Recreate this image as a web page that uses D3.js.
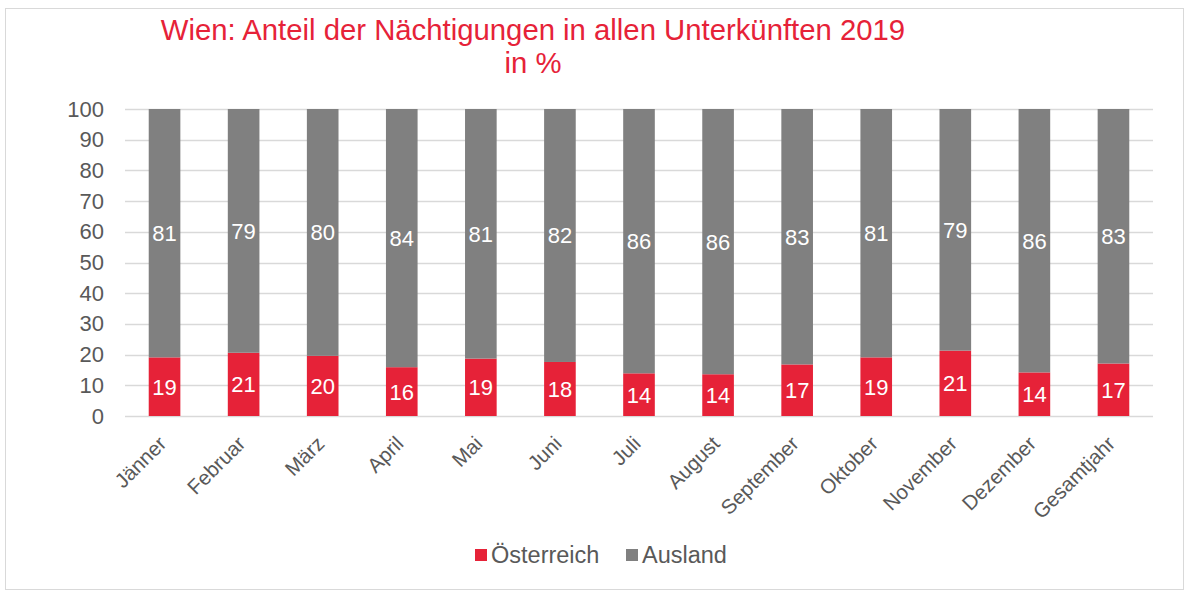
<!DOCTYPE html>
<html>
<head>
<meta charset="utf-8">
<script src="https://cdn.jsdelivr.net/npm/d3@7"></script>
<style>
  body { margin: 0; background: #fff; }
  svg text { font-family: "Liberation Sans", Arial, Helvetica, sans-serif; }
</style>
</head>
<body>
<svg id="chart" width="1189" height="592"></svg>
<script>
var months = ['Jänner', 'Februar', 'März', 'April', 'Mai', 'Juni', 'Juli',
  'August', 'September', 'Oktober', 'November', 'Dezember', 'Gesamtjahr'];
var oesterreich = [19.1, 20.6, 19.6, 15.9, 18.7, 17.6, 13.9, 13.6, 16.8, 19.1, 21.3, 14.2, 17.1];
var ausland = [80.9, 79.4, 80.4, 84.1, 81.3, 82.4, 86.1, 86.4, 83.2, 80.9, 78.7, 85.8, 82.9];
var yTicks = [0, 10, 20, 30, 40, 50, 60, 70, 80, 90, 100];
var seriesNames = ['Österreich', 'Ausland'];
var colors = ['#E62238', '#808080'];

var svg = d3.select('#chart');
var textGrey = '#595959';

// chart frame
svg.append('rect')
  .attr('x', 5.5).attr('y', 8.5)
  .attr('width', 1178).attr('height', 581)
  .attr('fill', 'none').attr('stroke', '#d9d9d9');

// title
var title = svg.append('text')
  .attr('text-anchor', 'middle')
  .attr('fill', colors[0])
  .style('font-size', '29.3px');
title.append('tspan').attr('x', 533).attr('y', 40)
  .text('Wien: Anteil der Nächtigungen in allen Unterkünften 2019');
title.append('tspan').attr('x', 533).attr('y', 73).text('in %');

var plot = { left: 125, right: 1153, top: 109, bottom: 416 };

var x = d3.scaleBand()
  .domain(months)
  .range([plot.left, plot.right])
  .paddingInner(0.6)
  .paddingOuter(0.3);

var y = d3.scaleLinear().domain([0, 100]).range([plot.bottom, plot.top]);

// gridlines
svg.append('g')
  .selectAll('line')
  .data(yTicks)
  .enter()
  .append('line')
  .attr('x1', plot.left).attr('x2', plot.right)
  .attr('y1', d => Math.round(y(d)) + 0.5)
  .attr('y2', d => Math.round(y(d)) + 0.5)
  .attr('stroke', '#d9d9d9')
  .attr('stroke-width', 1.5);

// y axis labels
var yAxis = svg.append('g')
  .attr('transform', 'translate(' + (plot.left - 21) + ',0)')
  .call(d3.axisLeft(y).tickValues(yTicks).tickSize(0).tickPadding(0));
yAxis.select('.domain').remove();
yAxis.selectAll('text')
  .attr('fill', textGrey)
  .style('font-size', '22px');

// stacked bars
var rows = months.map((m, i) => ({ month: m, 'Österreich': oesterreich[i], 'Ausland': ausland[i] }));
var stack = d3.stack().keys(seriesNames)(rows);

var groups = svg.append('g')
  .selectAll('g')
  .data(stack)
  .enter()
  .append('g')
  .attr('fill', (d, i) => colors[i]);

groups.selectAll('rect')
  .data(d => d)
  .enter()
  .append('rect')
  .attr('x', d => x(d.data.month))
  .attr('width', x.bandwidth())
  .attr('y', d => y(d[1]))
  .attr('height', d => y(d[0]) - y(d[1]));

groups.selectAll('text')
  .data(d => d)
  .enter()
  .append('text')
  .attr('x', d => x(d.data.month) + x.bandwidth() / 2)
  .attr('y', d => y((d[0] + d[1]) / 2))
  .attr('dy', '0.36em')
  .attr('text-anchor', 'middle')
  .attr('fill', '#fff')
  .style('font-size', '22px')
  .text(d => Math.round(d[1] - d[0]));

// x axis labels
var xAxis = svg.append('g')
  .attr('transform', 'translate(0,' + plot.bottom + ')')
  .call(d3.axisBottom(x).tickSize(0).tickPadding(0));
xAxis.select('.domain').remove();
xAxis.selectAll('text')
  .attr('fill', textGrey)
  .style('font-size', '20.5px')
  .attr('text-anchor', 'end')
  .attr('dy', null)
  .attr('y', 0)
  .attr('transform', 'translate(3,29) rotate(-45)');

// legend
var legendX = [475, 626];
var legend = svg.append('g')
  .selectAll('g')
  .data(seriesNames)
  .enter()
  .append('g')
  .attr('transform', (d, i) => 'translate(' + legendX[i] + ',555)');
legend.append('rect')
  .attr('x', 0).attr('y', -6)
  .attr('width', 12).attr('height', 12)
  .attr('fill', (d, i) => colors[i]);
legend.append('text')
  .attr('x', 16).attr('y', 0)
  .attr('dy', '0.36em')
  .attr('fill', textGrey)
  .style('font-size', '23.5px')
  .text(d => d);
</script>
</body>
</html>
